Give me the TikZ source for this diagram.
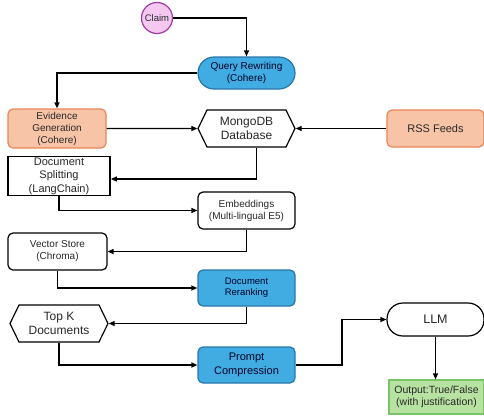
\documentclass[tikz,border=0pt]{standalone}
\usepackage{fontspec}
\setmainfont{Liberation Sans}
\usetikzlibrary{arrows.meta,shapes.geometric,shapes.symbols}

\begin{document}
\begin{tikzpicture}[x=1pt,y=-1pt,line width=1.1pt]
\definecolor{figblue}{RGB}{64,172,226}
\definecolor{figblued}{RGB}{40,118,168}
\definecolor{figorng}{RGB}{248,196,168}
\definecolor{figorngd}{RGB}{232,134,88}
\definecolor{figpink}{RGB}{245,200,242}
\definecolor{figpinkd}{RGB}{160,60,160}
\definecolor{figgreen}{RGB}{184,226,162}
\definecolor{figgreend}{RGB}{122,196,104}
\definecolor{figtext}{RGB}{40,40,40}
\providecommand{\fnine}{\fontsize{9.5}{11}\selectfont}
\providecommand{\ften}{\fontsize{10}{12}\selectfont}
\providecommand{\felev}{\fontsize{11}{13.5}\selectfont}
\providecommand{\ftwel}{\fontsize{12}{14.5}\selectfont}
\tikzset{box/.style={draw=black,rounded corners=5pt,fill=white,text=figtext,align=center,inner sep=1pt,minimum width=97pt,minimum height=37pt,line width=1.2pt},pill/.style={rounded corners=16pt},hexa/.style={box,rounded corners=0pt,signal,signal to=west and east,signal pointer angle=128},bluebox/.style={box,fill=figblue,draw=figblued,text=black!85!blue},orngbox/.style={box,fill=figorng,draw=figorngd},flow/.style={-{Triangle[length=6pt,width=5pt]},draw=black,line width=1.2pt}}
\useasboundingbox (0,0) rectangle (484,416);
\node[circle,draw=figpinkd,fill=figpink,line width=1.2pt,minimum size=31pt,inner sep=0pt,text=figtext,font=\fnine] (claim) at (157,18) {Claim};
\node[bluebox,pill,minimum height=32pt,font=\ften] (query) at (246.5,73) {Query Rewriting\\(Cohere)};
\node[orngbox,minimum width=98pt,minimum height=39pt,font=\ften] (evidence) at (57,128.5) {Evidence\\Generation\\(Cohere)};
\node[hexa,font=\ftwel] (mongo) at (246.5,128.5) {MongoDB\\Database};
\node[orngbox,font=\felev] (rss) at (435.5,128.5) {RSS Feeds};
\node[box,rounded corners=0pt,minimum width=102pt,minimum height=38pt,line width=1.7pt,font=\felev] (split) at (59,176) {Document\\Splitting\\(LangChain)};
\node[box,font=\ften] (embed) at (246.5,210.5) {Embeddings\\(Multi-lingual E5)};
\node[box,minimum width=99pt,font=\ften] (vector) at (57.5,251.5) {Vector Store\\(Chroma)};
\node[bluebox,minimum height=36pt,font=\fnine] (rerank) at (246.5,288) {Document\\Reranking};
\node[hexa,minimum width=98pt,font=\ftwel] (topk) at (59,323.5) {Top K\\Documents};
\node[bluebox,minimum height=36pt,font=\felev] (prompt) at (246.5,365) {Prompt\\Compression};
\node[box,pill,minimum height=33pt,font=\fontsize{12.5}{15}\selectfont] (llm) at (435.5,319.5) {LLM};
\node[box,rounded corners=0pt,fill=figgreen,draw=figgreend,minimum width=95pt,minimum height=34pt,font=\fontsize{10.5}{12.5}\selectfont] (output) at (436.5,397) {Output:True/False\\(with justification)};
\coordinate (bend) at (342,0);
\draw[flow] (claim) -| (query);
\draw[flow] (query) -| (evidence);
\draw[flow] (evidence) -- (mongo);
\draw[flow] (rss) -- (mongo);
\draw[flow] ([xshift=10pt]mongo.south) |- ([yshift=-3pt]split.east);
\draw[flow] (split) |- (embed);
\draw[flow] (embed) |- (vector);
\draw[flow] (vector) |- (rerank);
\draw[flow] (rerank) |- (topk);
\draw[flow] (topk) |- (prompt);
\draw[flow] (prompt.east) -- (bend |- prompt) -- (bend |- llm) -- (llm.west);
\draw[flow] (llm.south) -- (llm.south |- output.north);
\end{tikzpicture}
\end{document}
